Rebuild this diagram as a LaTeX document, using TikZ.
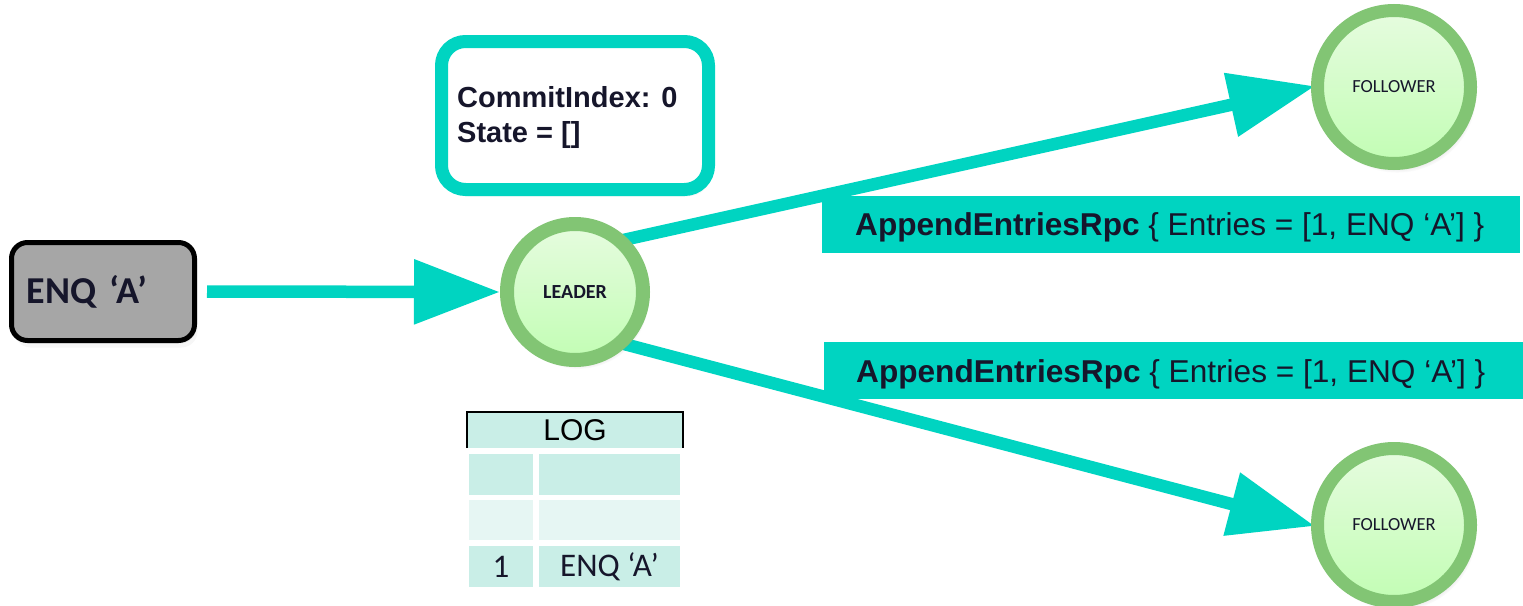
\documentclass[tikz,border=0pt]{standalone}
\usepackage{fontspec}
\setmainfont{Liberation Sans}
\newfontfamily\calfont{Carlito}
\usetikzlibrary{arrows.meta,shadows}

\definecolor{rpcteal}{HTML}{00D4C1}
\definecolor{ringgreen}{HTML}{82C574}
\definecolor{innertop}{HTML}{E6FCDF}
\definecolor{innerbottom}{HTML}{C2FDB4}
\definecolor{boxgray}{HTML}{A6A6A6}
\definecolor{ink}{HTML}{16162B}
\definecolor{logdark}{HTML}{C9EEE7}
\definecolor{loglight}{HTML}{E6F6F3}

\pgfdeclarelayer{background}
\pgfsetlayers{background,main}

\tikzset{
  softshadow/.style={
    drop shadow={opacity=0.10, shadow xshift=2pt, shadow yshift=-3pt},
    drop shadow={opacity=0.07, shadow xshift=3pt, shadow yshift=-7pt}},
  raftnode/.style={circle, draw=ringgreen, line width=13pt,
    top color=innertop, bottom color=innerbottom, text=ink, inner sep=0pt,
    circular drop shadow={opacity=0.35, shadow xshift=3pt, shadow yshift=-6pt, shadow scale=1.04}},
  flow/.style={draw=rpcteal, line width=12.5pt,
    -{Triangle[length=86pt,width=62pt]}},
  rpcbar/.style={fill=rpcteal, anchor=north west, minimum height=57pt,
    inner sep=0pt},
  rpctext/.style={anchor=base west, inner sep=0pt, text=ink,
    font=\fontsize{31.6}{36}\selectfont},
  logcell/.style={inner sep=0pt, text=ink,
    font=\calfont\fontsize{33}{36}\selectfont},
}

\begin{document}
\begin{tikzpicture}[x=1pt, y=-1pt]
  \useasboundingbox (0,0) rectangle (1523,605);

  % command that enters the system
  \node[draw=black, line width=5pt, fill=boxgray, rounded corners=16pt,
        minimum width=183pt, minimum height=98pt, inner xsep=15.5pt,
        text width=152pt, align=left, text=ink, softshadow,
        font=\calfont\bfseries\fontsize{38}{42}\selectfont]
        (enq) at (103,291.5) {ENQ ‘A’};

  % leader state
  \node[draw=rpcteal, line width=13pt, fill=white, rounded corners=24pt,
        minimum width=267pt, minimum height=148pt, softshadow]
        (commit) at (575,115.5) {};
  \node[anchor=base west, inner sep=0pt, text=ink,
        font=\bfseries\fontsize{29}{35}\selectfont]
        (commitidx) at (457,107) {CommitIndex: 0};
  \node[anchor=base west, inner sep=0pt, text=ink,
        font=\bfseries\fontsize{29}{35}\selectfont]
        (commitstate) at (457,142) {State = []};

  % cluster members
  \node[raftnode, line width=14pt, minimum size=136pt,
        font=\calfont\bfseries\fontsize{20}{24}\selectfont]
        (leader) at (575,292) {LEADER};
  \node[raftnode, minimum size=153pt,
        font=\calfont\fontsize{18.5}{22}\selectfont]
        (f1) at (1394,87) {FOLLOWER};
  \node[raftnode, minimum size=153pt,
        font=\calfont\fontsize{18.5}{22}\selectfont]
        (f2) at (1394,525) {FOLLOWER};

  % replication messages
  \node[rpcbar, minimum width=698pt] (rpc1) at (822,196) {};
  \node[rpctext] (rpc1text) at (855,235)
    {\textbf{AppendEntriesRpc} \{ Entries = [1, ENQ ‘A’] \}};
  \node[rpcbar, minimum width=699pt] (rpc2) at (824,342) {};
  \node[rpctext] (rpc2text) at (856,382)
    {\textbf{AppendEntriesRpc} \{ Entries = [1, ENQ ‘A’] \}};

  % leader log
  \node[fill=logdark, minimum width=216pt, minimum height=36pt, inner sep=0pt,
        text=black, font=\fontsize{30}{36}\selectfont]
        (loghead) at (575,430) {LOG};
  \draw[line width=2pt] (loghead.south west) |- (loghead.north)
        -| (loghead.south east);

  \node[logcell, fill=logdark, minimum width=64pt, minimum height=41pt] (i1) at (501,474.5) {};
  \node[logcell, fill=logdark, minimum width=141pt, minimum height=41pt] (e1) at (609.5,474.5) {};
  \node[logcell, fill=loglight, minimum width=64pt, minimum height=40pt] (i2) at (501,520) {};
  \node[logcell, fill=loglight, minimum width=141pt, minimum height=40pt] (e2) at (609.5,520) {};
  \node[logcell, fill=logdark, minimum width=64pt, minimum height=41pt] (i3) at (501,566.5) {1};
  \node[logcell, fill=logdark, minimum width=141pt, minimum height=41pt] (e3) at (609.5,566.5) {ENQ ‘A’};

  % arrows run underneath everything else
  \begin{pgfonlayer}{background}
    \draw[flow, shorten <=10pt] (enq.east) -- (leader.west);
    \draw[flow, shorten <=-14pt, shorten >=-4pt] (leader.45) -- (f1.west);
    \draw[flow, shorten <=-14pt, shorten >=-4pt] (leader.-45) -- (f2.west);
  \end{pgfonlayer}
\end{tikzpicture}
\end{document}
